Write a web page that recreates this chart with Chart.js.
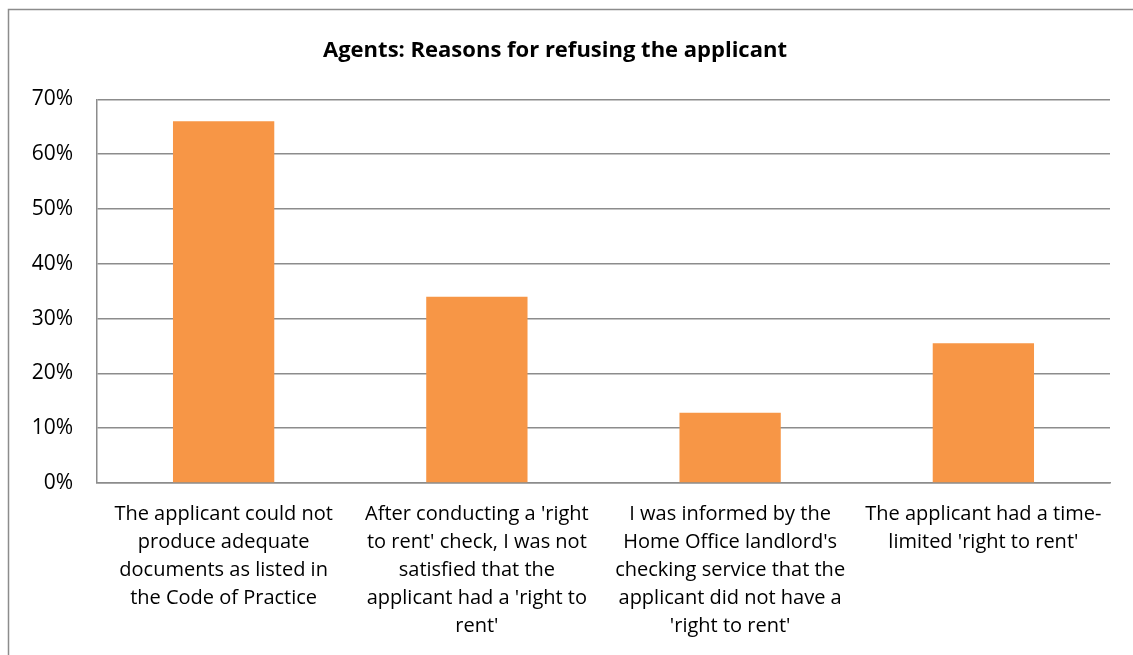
<!DOCTYPE html>
<html>
<head>
<meta charset="utf-8">
<script src="https://cdn.jsdelivr.net/npm/chart.js@4"></script>
<style>
  html, body { margin: 0; padding: 0; background: #fff; }
  #wrap { width: 1133px; height: 655px; position: relative; }
</style>
</head>
<body>
<div id="wrap"><canvas id="refusalChart"></canvas></div>
<script>
const categories = [
  ['The applicant could not', 'produce adequate', 'documents as listed in', 'the Code of Practice'],
  ["After conducting a 'right", "to rent' check, I was not", 'satisfied that the', "applicant had a 'right to", "rent'"],
  ['I was informed by the', "Home Office landlord's", 'checking service that the', 'applicant did not have a', "'right to rent'"],
  ['The applicant had a time-', "limited 'right to rent'"]
];
const refusalShare = [0.66, 0.34, 0.128, 0.255];
const yTicks = [0, 0.1, 0.2, 0.3, 0.4, 0.5, 0.6, 0.7];

const fontFamily = '"Open Sans", Lato, sans-serif';

// outer frame of the chart object (top and left edges only are visible)
const framePlugin = {
  id: 'frame',
  beforeDraw(chart) {
    const ctx = chart.ctx;
    ctx.save();
    ctx.strokeStyle = '#8c8c8c';
    ctx.lineWidth = 1.5;
    ctx.beginPath();
    ctx.moveTo(8.5, chart.height);
    ctx.lineTo(8.5, 9.5);
    ctx.lineTo(chart.width, 9.5);
    ctx.stroke();
    ctx.restore();
  }
};

const ctx = document.getElementById('refusalChart').getContext('2d');
new Chart(ctx, {
  type: 'bar',
  data: {
    labels: categories,
    datasets: [{
      data: refusalShare,
      backgroundColor: '#F79646',
      borderWidth: 0,
      categoryPercentage: 1,
      barPercentage: 0.4
    }]
  },
  options: {
    responsive: true,
    maintainAspectRatio: false,
    animation: false,
    layout: { padding: { left: 0, right: 23, top: 0, bottom: 0 } },
    plugins: {
      legend: { display: false },
      tooltip: { enabled: false },
      title: {
        display: true,
        text: 'Agents: Reasons for refusing the applicant',
        color: '#000',
        font: { family: fontFamily, size: 22, weight: 'bold', lineHeight: 1.2 },
        padding: { top: 38, bottom: 35 }
      }
    },
    scales: {
      x: {
        grid: { display: false, drawTicks: false },
        border: { display: true, color: '#8c8c8c', width: 1.5 },
        ticks: {
          color: '#000',
          font: { family: fontFamily, size: 20, lineHeight: 1.4 },
          padding: 17,
          maxRotation: 0,
          autoSkip: false
        },
        afterFit(scale) { scale.height = 172; }
      },
      y: {
        min: 0,
        max: 0.7,
        afterBuildTicks(scale) { scale.ticks = yTicks.map(v => ({ value: v })); },
        grid: { color: '#8c8c8c', lineWidth: 1.5, drawTicks: false },
        border: { display: true, color: '#8c8c8c', width: 1.5 },
        ticks: {
          color: '#000',
          font: { family: fontFamily, size: 21 },
          padding: 24,
          callback: v => Math.round(v * 100) + '%'
        },
        afterFit(scale) { scale.width = 97; }
      }
    }
  },
  plugins: [framePlugin]
});
</script>
</body>
</html>
